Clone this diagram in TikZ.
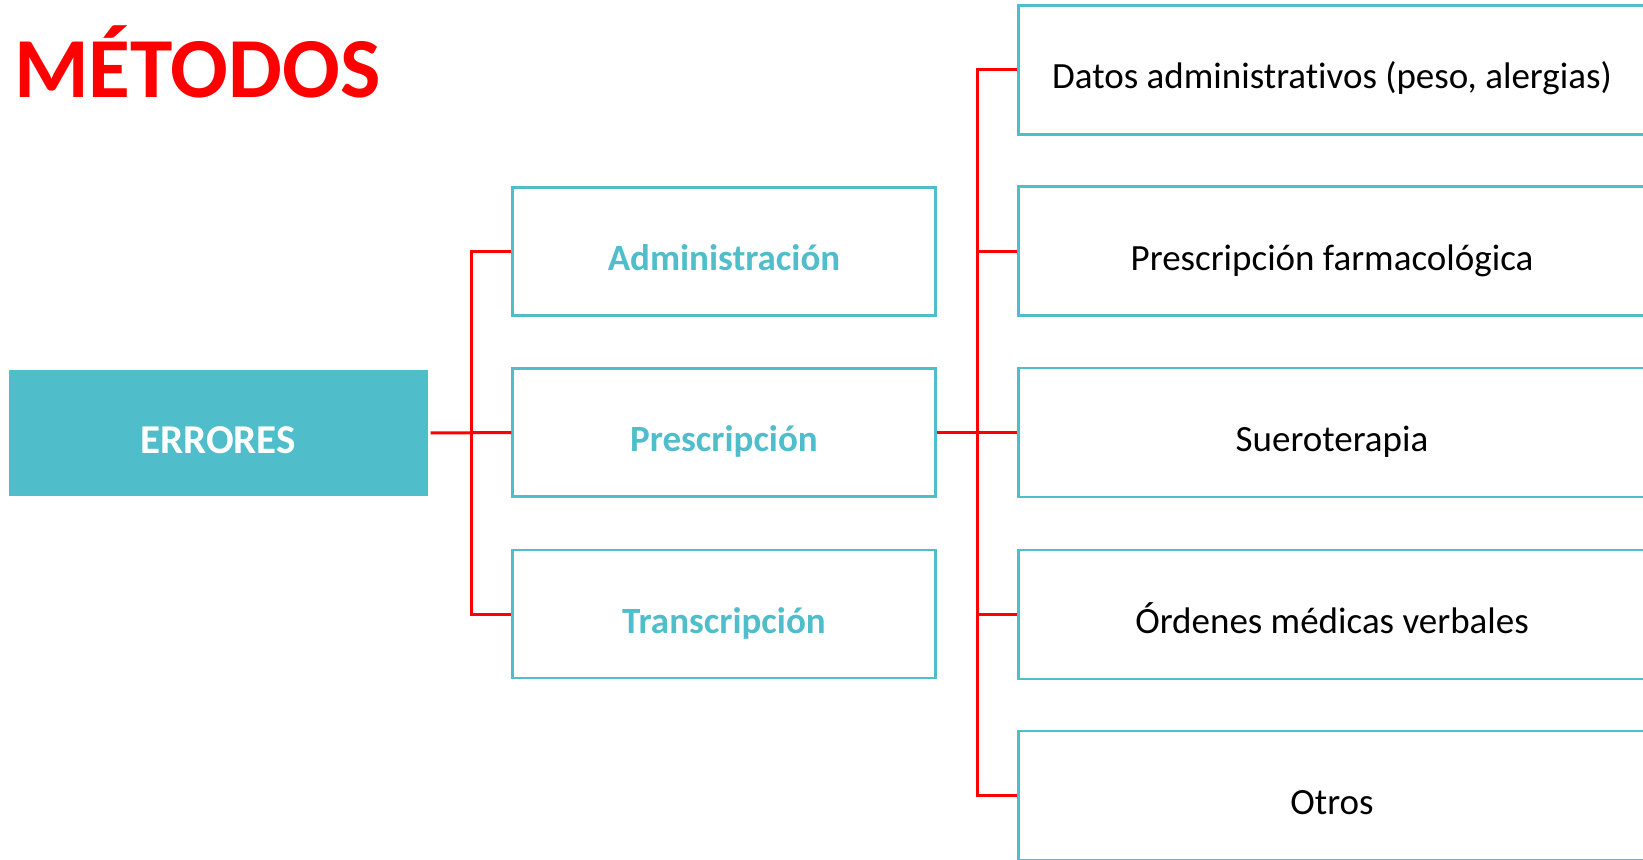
\documentclass[tikz,border=0pt]{standalone}
\usepackage{fontspec}
\setmainfont{Carlito}[Ligatures=NoCommon]
\definecolor{cy}{HTML}{4FBDCA}
\definecolor{rd}{HTML}{FF0000}
\begin{document}
\begin{tikzpicture}[x=1pt,y=-1pt,
  midbox/.style={draw=cy, line width=2.5pt, minimum width=423pt, minimum height=128pt, inner sep=0pt,
    text height=42pt, text depth=4pt,
    font=\fontsize{37}{44}\selectfont\bfseries, text=cy},
  rbox/.style={draw=cy, line width=2.5pt, minimum width=627pt, minimum height=129pt, inner sep=0pt,
    text height=42pt, text depth=4pt,
    font=\fontsize{37}{44}\selectfont, text=black},
  rootbox/.style={fill=cy, minimum width=419pt, minimum height=126pt, inner sep=0pt,
    text height=40pt, text depth=0pt,
    font=\fontsize{41}{48}\selectfont\bfseries, text=white},
  conn/.style={draw=rd, line width=3pt}]
\useasboundingbox (0,0) rectangle (1643,859);

\node[anchor=base west, inner sep=0pt, text=rd, font=\fontsize{85.5}{96}\selectfont\bfseries] (title) at (14,97) {MÉTODOS};

\node[rootbox] (err) at (218,433) {ERRORES};

\node[midbox] (adm) at (724,251.5) {Administración};
\node[midbox] (pre) at (724,432.5) {Prescripción};
\node[midbox] (tra) at (724,614) {Transcripción};

\node[rbox] (r1) at (1332,69.8) {Datos administrativos (peso, alergias)};
\node[rbox] (r2) at (1332,251.2) {Prescripción farmacológica};
\node[rbox] (r3) at (1332,432.5) {Sueroterapia};
\node[rbox] (r4) at (1332,614.5) {Órdenes médicas verbales};
\node[rbox] (r5) at (1332,795.5) {Otros};

\coordinate (jl) at (471,432.5);
\coordinate (jr) at (977.3,432.5);

\draw[conn, shorten <=3pt] (err.east) -- (pre.west);
\draw[conn] (adm.west) -- (adm.west -| jl) -- (tra.west -| jl) -- (tra.west);

\draw[conn] (pre.east) -- (jr);
\draw[conn] (r1.west) -- (r1.west -| jr) -- (r5.west -| jr) -- (r5.west);
\draw[conn] (r2.west -| jr) -- (r2.west);
\draw[conn] (r3.west -| jr) -- (r3.west);
\draw[conn] (r4.west -| jr) -- (r4.west);
\end{tikzpicture}
\end{document}
